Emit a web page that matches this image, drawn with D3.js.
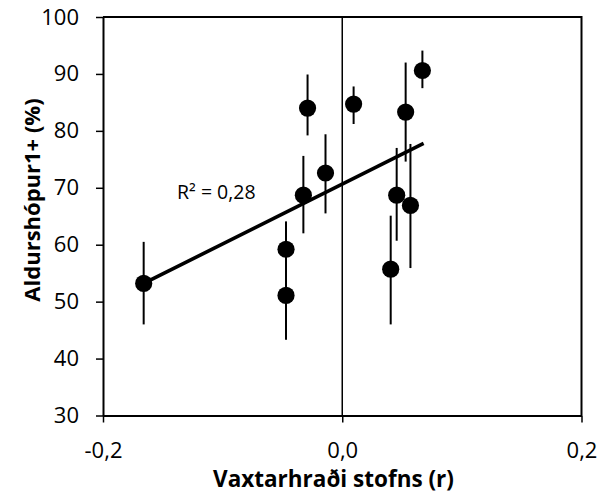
<!DOCTYPE html>
<meta charset="utf-8">
<script src="https://d3js.org/d3.v7.min.js"></script>
<style>
    body { margin: 0; background: #fff; }
    text { font-family: "Open Sans", sans-serif; fill: #000; }
</style>
<div id="chart"></div>
<script>

    // data
    var growthRate = [-0.166, -0.047, -0.047, -0.029, -0.0325, -0.014, 0.0095, 0.053, 0.067, 0.0455, 0.057, 0.0405];
    var ageShare   = [53.2, 59.2, 51.1, 84.0, 68.7, 72.6, 84.7, 83.3, 90.6, 68.7, 66.9, 55.7];
    var errLow     = [46.0, 54.2, 43.3, 79.2, 62.0, 65.5, 81.2, 74.6, 87.5, 60.7, 55.9, 46.0];
    var errHigh    = [60.5, 64.1, 58.9, 89.9, 75.6, 79.4, 87.8, 92.0, 94.1, 77.0, 77.7, 65.1];
    var trendX = [-0.166, 0.068];
    var trendY = [53.2, 77.8];
    var xTicks = [-0.2, 0, 0.2];
    var yTicks = [30, 40, 50, 60, 70, 80, 90, 100];
    var r2Label = "R² = 0,28";

    var margin = { top: 17, right: 26.5, bottom: 83.5, left: 103 },
        width = 608 - margin.left - margin.right,
        height = 499 - margin.top - margin.bottom;

    var svg = d3.select("#chart")
        .append("svg")
        .attr("width", 608)
        .attr("height", 499)
        .append("g")
        .attr("transform", "translate(" + margin.left + "," + margin.top + ")");

    var x = d3.scaleLinear().domain([-0.2, 0.2]).range([0, width]);
    var y = d3.scaleLinear().domain([30, 100]).range([height, 0]);

    // frame (top and right)
    svg.append("path")
        .attr("d", "M0,0H" + width + "V" + height)
        .attr("fill", "none")
        .attr("stroke", "#000")
        .attr("stroke-width", 2);

    // zero line
    svg.append("line")
        .attr("x1", x(0)).attr("x2", x(0))
        .attr("y1", 0).attr("y2", height)
        .attr("stroke", "#000")
        .attr("stroke-width", 1.5);

    // axes
    var fmt = function (d) { return d3.format(".1f")(d).replace(".", ",").replace("−", "-"); };

    var xAxis = svg.append("g")
        .attr("transform", "translate(0," + height + ")")
        .call(d3.axisBottom(x).tickValues(xTicks).tickFormat(fmt).tickSizeInner(7).tickSizeOuter(0).tickPadding(20));

    var yAxis = svg.append("g")
        .call(d3.axisLeft(y).tickValues(yTicks).tickSizeInner(7).tickSizeOuter(0).tickPadding(17));

    svg.selectAll(".domain").attr("stroke-width", 2);
    svg.selectAll(".tick line").attr("stroke-width", 1.5);
    svg.selectAll(".tick text").style("font-size", "22px").attr("fill", "#000");
    xAxis.selectAll(".tick text").attr("dy", "0.71em");

    // axis titles
    svg.append("text")
        .attr("x", 333.5 - margin.left)
        .attr("y", 487 - margin.top)
        .style("text-anchor", "middle")
        .style("font-weight", "bold")
        .style("font-size", "22.5px")
        .text("Vaxtarhraði stofns (r)");

    svg.append("text")
        .attr("transform", "rotate(-90)")
        .attr("x", -(200 - margin.top))
        .attr("y", 40 - margin.left)
        .style("text-anchor", "middle")
        .style("font-weight", "bold")
        .style("font-size", "22px")
        .text("Aldurshópur1+ (%)");

    // error bars
    svg.selectAll(".err")
        .data(growthRate)
        .enter()
        .append("line")
        .attr("class", "err")
        .attr("x1", function (d) { return x(d); })
        .attr("x2", function (d) { return x(d); })
        .attr("y1", function (d, i) { return y(errLow[i]); })
        .attr("y2", function (d, i) { return y(errHigh[i]); })
        .attr("stroke", "#000")
        .attr("stroke-width", 2);

    // trend line
    svg.append("line")
        .attr("x1", x(trendX[0])).attr("y1", y(trendY[0]))
        .attr("x2", x(trendX[1])).attr("y2", y(trendY[1]))
        .attr("stroke", "#000")
        .attr("stroke-width", 3.6);

    // points
    svg.selectAll(".pt")
        .data(growthRate)
        .enter()
        .append("circle")
        .attr("class", "pt")
        .attr("cx", function (d) { return x(d); })
        .attr("cy", function (d, i) { return y(ageShare[i]); })
        .attr("r", 8.6)
        .attr("fill", "#000");

    // R² label
    svg.append("text")
        .attr("x", 177 - margin.left)
        .attr("y", 199 - margin.top)
        .style("font-size", "19.5px")
        .text(r2Label);

</script>
